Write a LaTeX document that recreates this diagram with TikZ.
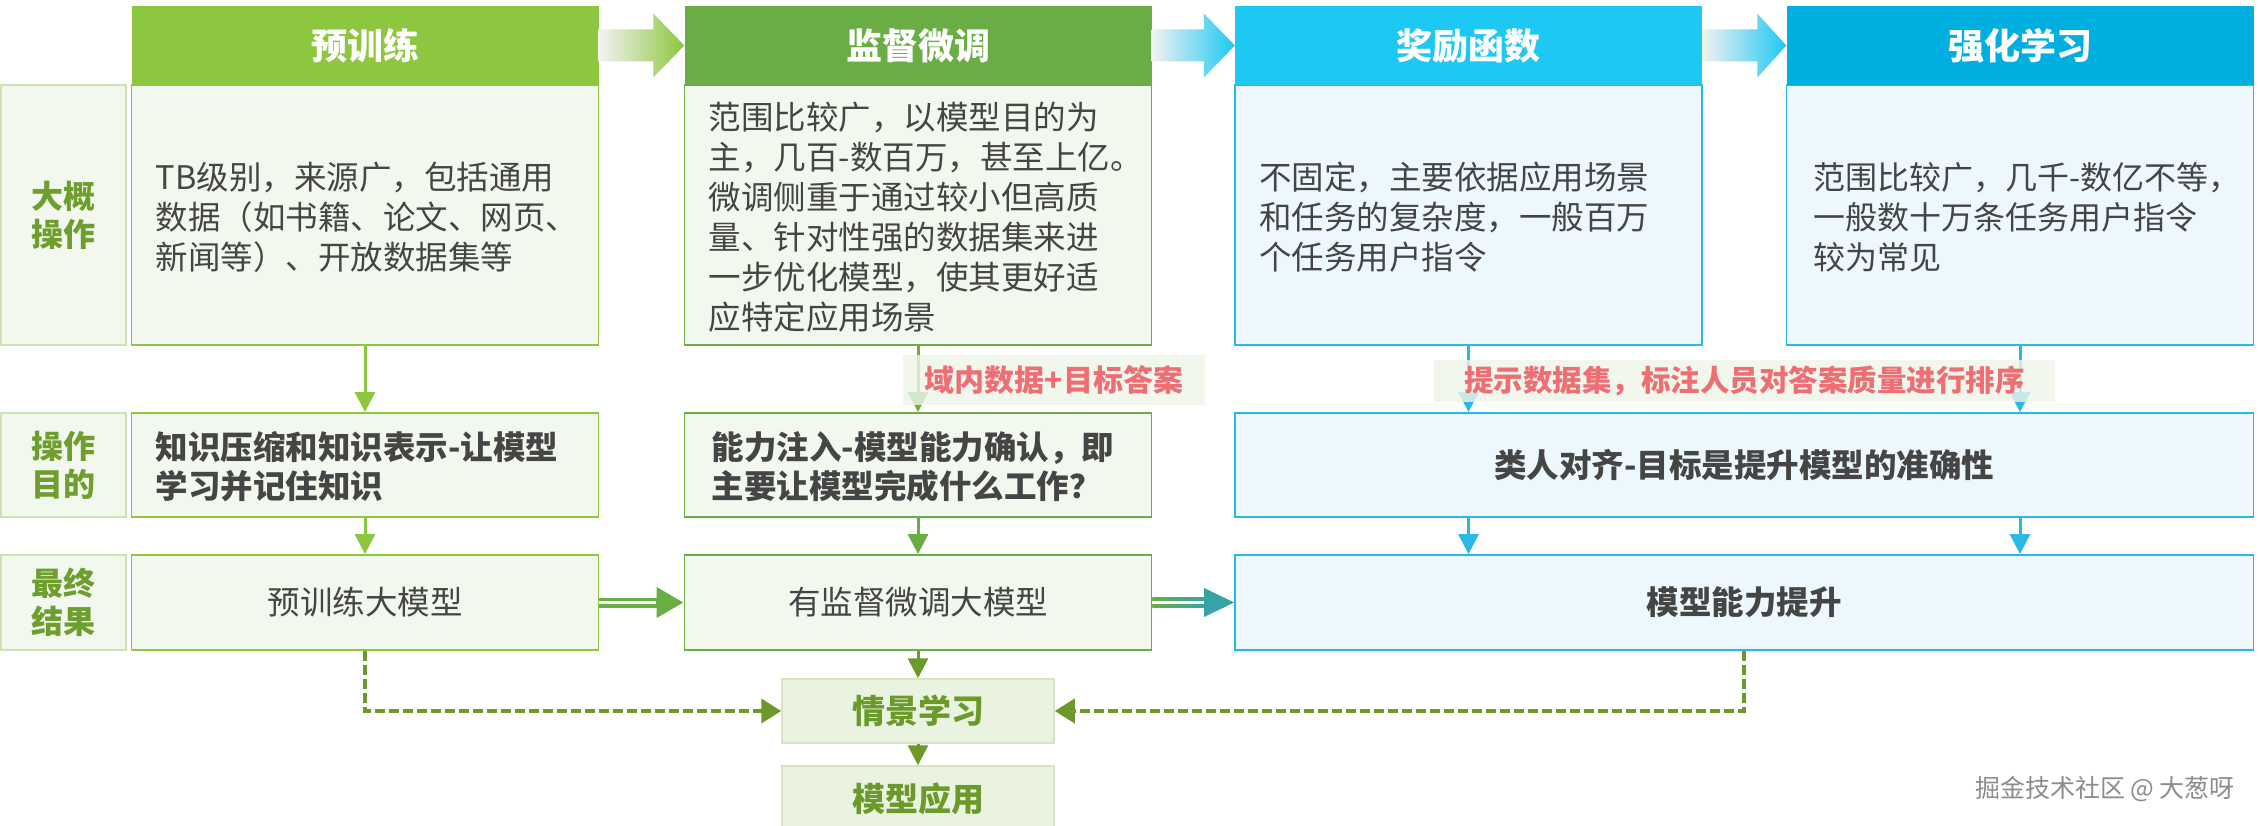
\documentclass[tikz,border=0pt]{standalone}
\usepackage{fontspec}
\setmainfont{Noto Sans CJK SC}
\usetikzlibrary{arrows.meta,calc}
\definecolor{gA}{HTML}{8DC63F}
\definecolor{gB}{HTML}{6AAD45}
\definecolor{cA}{HTML}{1DC8F2}
\definecolor{cB}{HTML}{00AEDF}
\definecolor{gfill}{HTML}{F2F8ED}
\definecolor{cfill}{HTML}{ECF8FD}
\definecolor{cline}{HTML}{2BB8E8}
\definecolor{lblfill}{HTML}{F3F8EE}
\definecolor{lblline}{HTML}{CDE3B5}
\definecolor{lbltext}{HTML}{6E9E2E}
\definecolor{txt}{HTML}{454545}
\definecolor{redtxt}{HTML}{EE6E73}
\definecolor{olivegreen}{HTML}{6B9A2B}
\definecolor{tealA}{HTML}{38A3A5}
\definecolor{tagbg}{HTML}{EEF5E9}
\definecolor{qfill}{HTML}{E9F3DF}
\definecolor{qline}{HTML}{D3E5C2}
\definecolor{wm}{HTML}{8C8C8C}
\begin{document}
\begin{tikzpicture}[x=1pt,y=-1pt,
  hdr/.style={rectangle, inner sep=0pt, minimum width=467pt, minimum height=79pt, text=white, font=\fontsize{36}{40}\selectfont\bfseries},
  bodybox/.style={rectangle, inner sep=0pt, minimum width=467pt, line width=1.8pt},
  lbl/.style={rectangle, draw=lblline, fill=lblfill, line width=1.5pt, minimum width=125pt, inner sep=0pt, text=lbltext, font=\fontsize{32}{38}\selectfont\bfseries, align=center},
  bodytxt/.style={anchor=west, inner sep=0pt, align=left, text=txt, font=\fontsize{32.5}{40}\selectfont},
  boldtxt/.style={anchor=west, inner sep=0pt, align=left, text=txt, font=\fontsize{32.5}{39}\selectfont\bfseries},
  ctrtxt/.style={inner sep=0pt, text=txt, font=\fontsize{32.5}{39}\selectfont},
  varr/.style={line width=3pt, -{Triangle[length=20pt,width=20pt]}},
  dsh/.style={draw=olivegreen, line width=4pt, dash pattern=on 10pt off 4pt, -{Triangle[length=20pt,width=24pt]}},
  tag/.style={fill=tagbg, fill opacity=0.8, text opacity=1, text=redtxt, inner ysep=0pt, font=\bfseries}
]
\fill[white] (0,0) rectangle (2260,826);
\useasboundingbox (0,0) rectangle (2260,826);

% ---- row 1 bodies
\node[bodybox, draw=gA, fill=gfill, minimum height=260pt] (b1) at (365,215) {};
\node[bodybox, draw=gB, fill=gfill, minimum height=260pt] (b2) at (918,215) {};
\node[bodybox, draw=cline, fill=cfill, minimum height=260pt] (b3) at (1468.5,215) {};
\node[bodybox, draw=cline, fill=cfill, minimum height=260pt] (b4) at (2020,215) {};
% ---- headers
\node[hdr, fill=gA] (h1) at (365,45.5) {预训练};
\node[hdr, fill=gB] (h2) at (918,45.5) {监督微调};
\node[hdr, fill=cA] (h3) at (1468.5,45.5) {奖励函数};
\node[hdr, fill=cB] (h4) at (2020,45.5) {强化学习};
% ---- header arrows
\shade[left color=gray!10, right color=gA]
  ($(h1.east)+(0,-16)$) -- ($(h2.west)+(-31,-16)$) -- ($(h2.west)+(-31,-32)$) -- (h2.west)
  -- ($(h2.west)+(-31,32)$) -- ($(h2.west)+(-31,16)$) -- ($(h1.east)+(0,16)$) -- cycle;
\shade[left color=gray!10, right color=cA]
  ($(h2.east)+(0,-16)$) -- ($(h3.west)+(-31,-16)$) -- ($(h3.west)+(-31,-32)$) -- (h3.west)
  -- ($(h3.west)+(-31,32)$) -- ($(h3.west)+(-31,16)$) -- ($(h2.east)+(0,16)$) -- cycle;
\shade[left color=gray!10, right color=cA]
  ($(h3.east)+(0,-16)$) -- ($(h4.west)+(-29,-16)$) -- ($(h4.west)+(-29,-32)$) -- (h4.west)
  -- ($(h4.west)+(-29,32)$) -- ($(h4.west)+(-29,16)$) -- ($(h3.east)+(0,16)$) -- cycle;

% ---- body texts
\node[bodytxt] (t1) at ($(b1.west)+(25,2)$) {TB级别，来源广，包括通用\\数据（如书籍、论文、网页、\\新闻等）、开放数据集等};
\node[bodytxt] (t2) at ($(b2.west)+(25,2)$) {范围比较广，以模型目的为\\主，几百-数百万，甚至上亿。\\微调侧重于通过较小但高质\\量、针对性强的数据集来进\\一步优化模型，使其更好适\\应特定应用场景};
\node[bodytxt] (t3) at ($(b3.west)+(25,2)$) {不固定，主要依据应用场景\\和任务的复杂度，一般百万\\个任务用户指令};
\node[bodytxt, font=\fontsize{32}{40}\selectfont] (t4) at ($(b4.west)+(28,2)$) {范围比较广，几千-数亿不等，\\一般数十万条任务用户指令\\较为常见};

% ---- row labels
\node[lbl, minimum height=260pt] (L1) at (63.5,215) {大概\\操作};
\node[lbl, minimum height=104pt] (L2) at (63.5,465) {操作\\目的};
\node[lbl, minimum height=95pt] (L3) at (63.5,602.5) {最终\\结果};

% ---- row 2
\node[bodybox, draw=gA, fill=gfill, minimum height=104pt] (r1) at (365,465) {};
\node[bodybox, draw=gB, fill=gfill, minimum height=104pt] (r2) at (918,465) {};
\node[bodybox, draw=cline, fill=cfill, minimum height=104pt, minimum width=1018.5pt] (r34) at (1744.25,465) {};
\node[boldtxt] (rt1) at ($(r1.west)+(25,2)$) {知识压缩和知识表示-让模型\\学习并记住知识};
\node[boldtxt] (rt2) at ($(r2.west)+(28,2)$) {能力注入-模型能力确认，即\\主要让模型完成什么工作？};
\node[ctrtxt, font=\fontsize{32.5}{39}\selectfont\bfseries] (rt34) at (r34.center) {类人对齐-目标是提升模型的准确性};

% ---- row 3
\node[bodybox, draw=gA, fill=gfill, minimum height=95pt] (f1) at (365,602.5) {};
\node[bodybox, draw=gB, fill=gfill, minimum height=95pt] (f2) at (918,602.5) {};
\node[bodybox, draw=cline, fill=cfill, minimum height=95pt, minimum width=1018.5pt] (f34) at (1744.25,602.5) {};
\node[ctrtxt] (ft1) at (f1.center) {预训练大模型};
\node[ctrtxt] (ft2) at (f2.center) {有监督微调大模型};
\node[ctrtxt, font=\fontsize{32.5}{39}\selectfont\bfseries] (ft34) at (f34.center) {模型能力提升};

% ---- bottom boxes
\node[rectangle, draw=qline, fill=qfill, line width=1.5pt, minimum width=272pt, minimum height=64pt, inner sep=0pt, text=olivegreen, font=\fontsize{33}{36}\selectfont\bfseries] (q) at (918,711) {情景学习};
\node[rectangle, draw=qline, fill=qfill, line width=1.5pt, minimum width=272pt, minimum height=66pt, inner sep=0pt, text=olivegreen, font=\fontsize{33}{36}\selectfont\bfseries] (m) at (918,799) {模型应用};

% ---- vertical arrows row1 -> row2
\draw[varr, gA] (b1.south) -- (r1.north);
\draw[varr, gA!85!black] (b2.south) -- (r2.north);
\draw[varr, cline] (b3.south) -- (b3.south |- r34.north);
\draw[varr, cline] (b4.south) -- (b4.south |- r34.north);
% ---- tags
\node[tag, minimum height=50pt, inner xsep=22pt, font=\fontsize{30}{30}\selectfont\bfseries] (k1) at (1054,380) {域内数据+目标答案};
\node[tag, minimum height=42pt, inner xsep=30pt, font=\fontsize{29.5}{30}\selectfont\bfseries] (k2) at (1744.5,381) {提示数据集，标注人员对答案质量进行排序};
% ---- row2 -> row3
\draw[varr, gA] (r1.south) -- (f1.north);
\draw[varr, gB] (r2.south) -- (f2.north);
\draw[varr, cline] (r34.south -| b3.south) -- (f34.north -| b3.south);
\draw[varr, cline] (r34.south -| b4.south) -- (f34.north -| b4.south);

% ---- row 3 horizontal arrows
\draw[gB, line width=10pt, -{Triangle[length=27pt,width=29pt]}] (f1.east) -- (f2.west);
\draw[white, line width=2.5pt, shorten >=28pt] (f1.east) -- (f2.west);
\shade[left color=gB, right color=tealA] ($(f2.east)+(0,-5)$) rectangle ($(f34.west)+(-29,5)$);
\draw[white, line width=2.5pt] (f2.east) -- ($(f34.west)+(-29,0)$);
\fill[tealA] ($(f34.west)+(-30,-14.5)$) -- (f34.west) -- ($(f34.west)+(-30,14.5)$) -- cycle;

% ---- to bottom boxes
\draw[varr, olivegreen] (f2.south) -- (q.north);
\draw[varr, olivegreen] (q.south) -- (m.north);
\draw[dsh] (f1.south) -- (f1.south |- q.west) -- (q.west);
\draw[dsh] (f34.south) -- (f34.south |- q.east) -- (q.east);

% ---- watermark
\node[text=wm, inner sep=0pt, font=\fontsize{25}{28}\selectfont] (wmk) at (2105,789) {掘金技术社区 @ 大葱呀};
\end{tikzpicture}
\end{document}
